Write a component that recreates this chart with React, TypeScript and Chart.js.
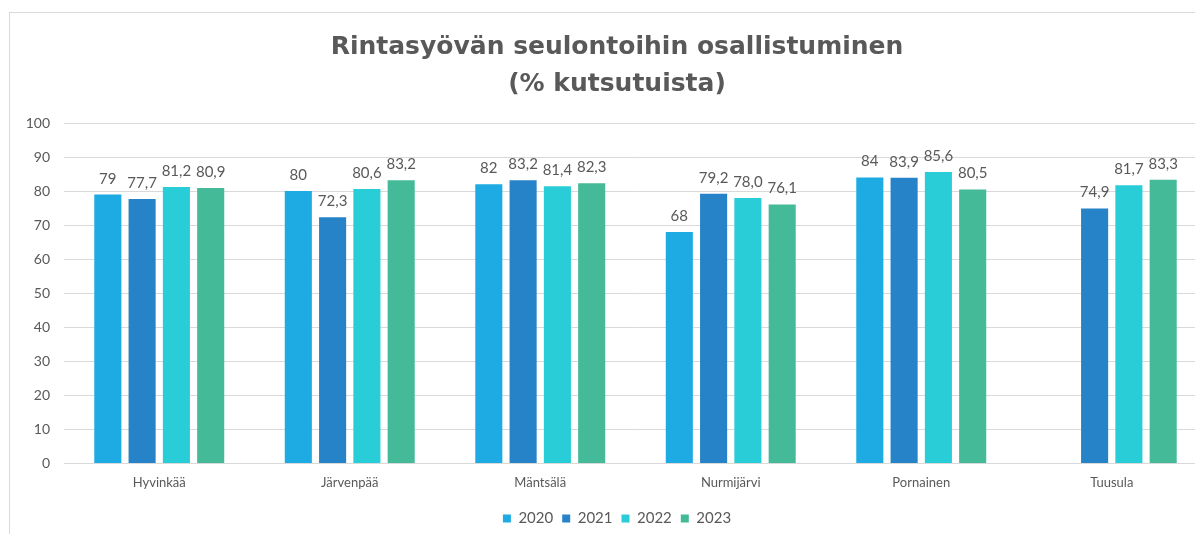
import React, { useEffect, useRef } from "react";
import { Chart, registerables } from "chart.js";

Chart.register(...registerables);

const categories = ["Hyvinkää", "Järvenpää", "Mäntsälä", "Nurmijärvi", "Pornainen", "Tuusula"];
const years = ["2020", "2021", "2022", "2023"];
const values2020 = [79, 80, 82, 68, 84, null];
const values2021 = [77.7, 72.3, 83.2, 79.2, 83.9, 74.9];
const values2022 = [81.2, 80.6, 81.4, 78.0, 85.6, 81.7];
const values2023 = [80.9, 83.2, 82.3, 76.1, 80.5, 83.3];
const labelDecimals = [0, 1, 1, 1];
const colors = ["#1EABE3", "#2683C7", "#29CDD8", "#45BA98"];
const titleLines = ["Rintasyövän seulontoihin osallistuminen", "(% kutsutuista)"];

const FONT = "Lato, 'Open Sans', sans-serif";
const TITLE_FONT = "'DejaVu Sans', Lato, sans-serif";
const TEXT = "#595959";

const dataLabels = {
  id: "dataLabels",
  afterDatasetsDraw(chart: any) {
    const ctx = chart.ctx;
    ctx.save();
    ctx.font = `15px ${FONT}`;
    ctx.fillStyle = TEXT;
    ctx.textAlign = "center";
    ctx.textBaseline = "alphabetic";
    chart.data.datasets.forEach((ds: any, di: number) => {
      const meta = chart.getDatasetMeta(di);
      meta.data.forEach((el: any, i: number) => {
        const v = ds.data[i];
        if (v === null || v === undefined) return;
        const s = v.toFixed(labelDecimals[di]).replace(".", ",");
        ctx.fillText(s, el.x, el.y - 11);
      });
    });
    ctx.restore();
  },
};

export default function App() {
  const ref = useRef<HTMLCanvasElement>(null);
  useEffect(() => {
    if (!ref.current) return;
    const series = [values2020, values2021, values2022, values2023];
    const chart = new Chart(ref.current, {
      type: "bar",
      data: {
        labels: categories,
        datasets: years.map((y, i) => ({
          label: y,
          data: series[i],
          backgroundColor: colors[i],
          borderWidth: 0,
          categoryPercentage: 0.72,
          barPercentage: 0.79,
        })),
      },
      options: {
        animation: false,
        responsive: false,
        maintainAspectRatio: false,
        layout: { padding: { left: 17, right: 18, top: 0, bottom: 0 } },
        plugins: {
          title: {
            display: true,
            text: titleLines,
            color: TEXT,
            font: { family: TITLE_FONT, size: 25, weight: "bold", lineHeight: 1.48 },
            padding: { top: 15.5, bottom: 20.5 },
          },
          legend: {
            position: "bottom",
            labels: {
              color: TEXT,
              font: { family: FONT, size: 15 },
              boxWidth: 8,
              boxHeight: 8,
              padding: 9,
            },
          },
          tooltip: { enabled: false },
        },
        scales: {
          x: {
            grid: { display: false, drawTicks: false },
            border: { display: true, color: "#d9d9d9", width: 1 },
            ticks: { color: TEXT, font: { family: FONT, size: 13 }, padding: 12 },
            afterFit: (s: any) => { s.height = 38.5; },
          },
          y: {
            min: 0,
            max: 100,
            ticks: { stepSize: 10, color: TEXT, font: { family: FONT, size: 14 }, padding: 14 },
            grid: { color: "#d9d9d9", drawTicks: false },
            border: { display: false },
            afterFit: (s: any) => { s.width = 37; },
          },
        },
      },
      plugins: [dataLabels],
    });
    return () => chart.destroy();
  }, []);

  return (
    <div style={{ position: "fixed", left: 0, top: 0, width: 1195, height: 534, overflow: "hidden", background: "#fff" }}>
      <div style={{ position: "absolute", left: 9, top: 12, width: 1215, height: 540, border: "1px solid #d9d9d9", background: "#fff" }}>
        <canvas ref={ref} width={1215} height={523} style={{ display: "block", width: 1215, height: 523 }} />
      </div>
    </div>
  );
}
